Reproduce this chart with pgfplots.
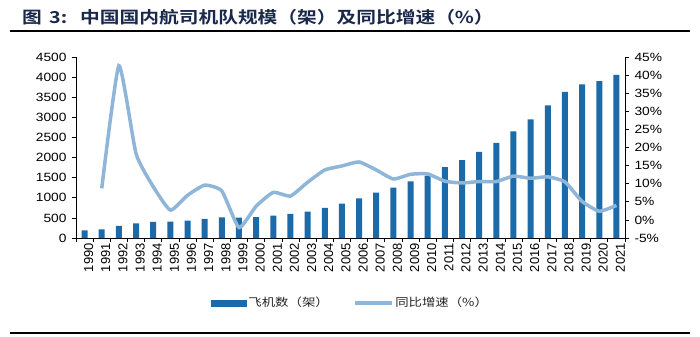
\documentclass[border=0pt]{standalone}
\usepackage{pgfplots}
\pgfplotsset{compat=1.18}
\usepackage{fontspec}
\setmainfont{Liberation Sans}
\newfontfamily\numfont[FakeStretch=1.15]{Liberation Sans}
\newfontfamily\cjk[FakeStretch=1.2,BoldFont={Noto Sans CJK SC Bold}]{Noto Sans CJK SC}
\definecolor{barblue}{RGB}{28,106,168}
\definecolor{lineblue}{RGB}{143,182,216}
\definecolor{titlenavy}{RGB}{25,40,75}
\begin{document}
\begin{tikzpicture}
\useasboundingbox (0bp,0bp) rectangle (700bp,-337bp);
\node[anchor=base west, inner sep=0pt, font=\cjk\bfseries\fontsize{16.5}{18}\selectfont, text=titlenavy] at (22bp,-23bp) {图};
\node[anchor=base west, inner sep=0pt, font=\cjk\bfseries\fontsize{16.5}{18}\selectfont, text=titlenavy] at (49bp,-23bp) {3:};
\node[anchor=base west, inner sep=0pt, font=\cjk\bfseries\fontsize{16.5}{18}\selectfont, text=titlenavy] at (80bp,-23bp) {中国国内航司机队规模（架）及同比增速（\%）};
\draw[line width=1.6bp] (10bp,-31bp) -- (690bp,-31bp);
\draw[line width=2bp] (10bp,-333bp) -- (690bp,-333bp);

\begin{axis}[
  at={(76bp,-238bp)}, anchor=south west,
  scale only axis, width=549bp, height=181bp,
  xmin=-0.5, xmax=31.5, ymin=0, ymax=4500,
  axis x line*=bottom, axis y line*=left,
  axis line style={-, black, line width=0.7bp},
  xtick={0,...,31},
  xticklabels={1990,1991,1992,1993,1994,1995,1996,1997,1998,1999,2000,2001,2002,2003,2004,2005,2006,2007,2008,2009,2010,2011,2012,2013,2014,2015,2016,2017,2018,2019,2020,2021},
  minor xtick={-0.5,0.5,...,31.5},
  major x tick style={draw=none},
  minor x tick style={black, line width=0.7bp},
  ytick={0,500,...,4500},
  yticklabels={0,500,1000,1500,2000,2500,3000,3500,4000,4500},
  y tick style={black, line width=0.7bp},
  tick align=outside, major tick length=4bp, minor tick length=4bp,
  xticklabel style={rotate=90, anchor=east, font=\fontsize{13}{13}\selectfont, inner sep=1bp, yshift=-4bp},
  yticklabel style={font=\numfont\fontsize{12}{13}\selectfont, xshift=-2bp},
  /pgf/number format/assume math mode=true,
  clip=false,
]
\addplot[ybar, bar width=6bp, fill=barblue, draw=none] coordinates {
(0,190) (1,215) (2,300) (3,365) (4,400) (5,407) (6,432) (7,473) (8,515) (9,505)
(10,522) (11,557) (12,597) (13,657) (14,746) (15,856) (16,988) (17,1129) (18,1254) (19,1410)
(20,1550) (21,1760) (22,1935) (23,2140) (24,2365) (25,2652) (26,2947) (27,3295) (28,3635) (29,3818)
(30,3900) (31,4055)};
\end{axis}

\begin{axis}[
  at={(76bp,-238bp)}, anchor=south west,
  scale only axis, width=549bp, height=181bp,
  xmin=-0.5, xmax=31.5, ymin=-5, ymax=45,
  axis x line=none, axis y line*=right,
  axis line style={-, black, line width=0.7bp},
  ytick={-5,0,5,10,15,20,25,30,35,40,45},
  yticklabels={-5\%,0\%,5\%,10\%,15\%,20\%,25\%,30\%,35\%,40\%,45\%},
  y tick style={black, line width=0.7bp},
  tick align=outside, major tick length=4bp,
  yticklabel style={font=\numfont\fontsize{12}{13}\selectfont, xshift=2bp},
  /pgf/number format/assume math mode=true,
  clip=false,
  legend style={at={(0.5,-0.358)}, anchor=center, draw=none, fill=none,
    font=\cjk\fontsize{11.2}{13}\selectfont, text=black!85,
    /tikz/every even column/.append style={column sep=22bp}},
  legend columns=2,
]
\addlegendimage{legend image code/.code={\fill[barblue] (0bp,-3bp) rectangle (35bp,3bp);}}
\addlegendentry{飞机数（架）}
\addplot[lineblue, line width=3.5bp, smooth, tension=0.3,
  legend image code/.code={\draw[lineblue, line width=3.5bp] (0bp,0bp) -- (37bp,0bp);}] coordinates {
(1,8.7) (2,42.6) (3,18.3) (4,9.2) (5,2.7) (6,6.8) (7,9.6) (8,8.0) (9,-2.1)
(10,3.8) (11,7.6) (12,6.6) (13,10.4) (14,13.8) (15,14.9) (16,16.0) (17,13.8) (18,11.3) (19,12.6)
(20,12.7) (21,10.7) (22,10.2) (23,10.6) (24,10.6) (25,12.1) (26,11.5) (27,11.9) (28,10.5) (29,5.1)
(30,2.4) (31,4.0)};
\addlegendentry{同比增速（\%）}
\end{axis}
\end{tikzpicture}
\end{document}
